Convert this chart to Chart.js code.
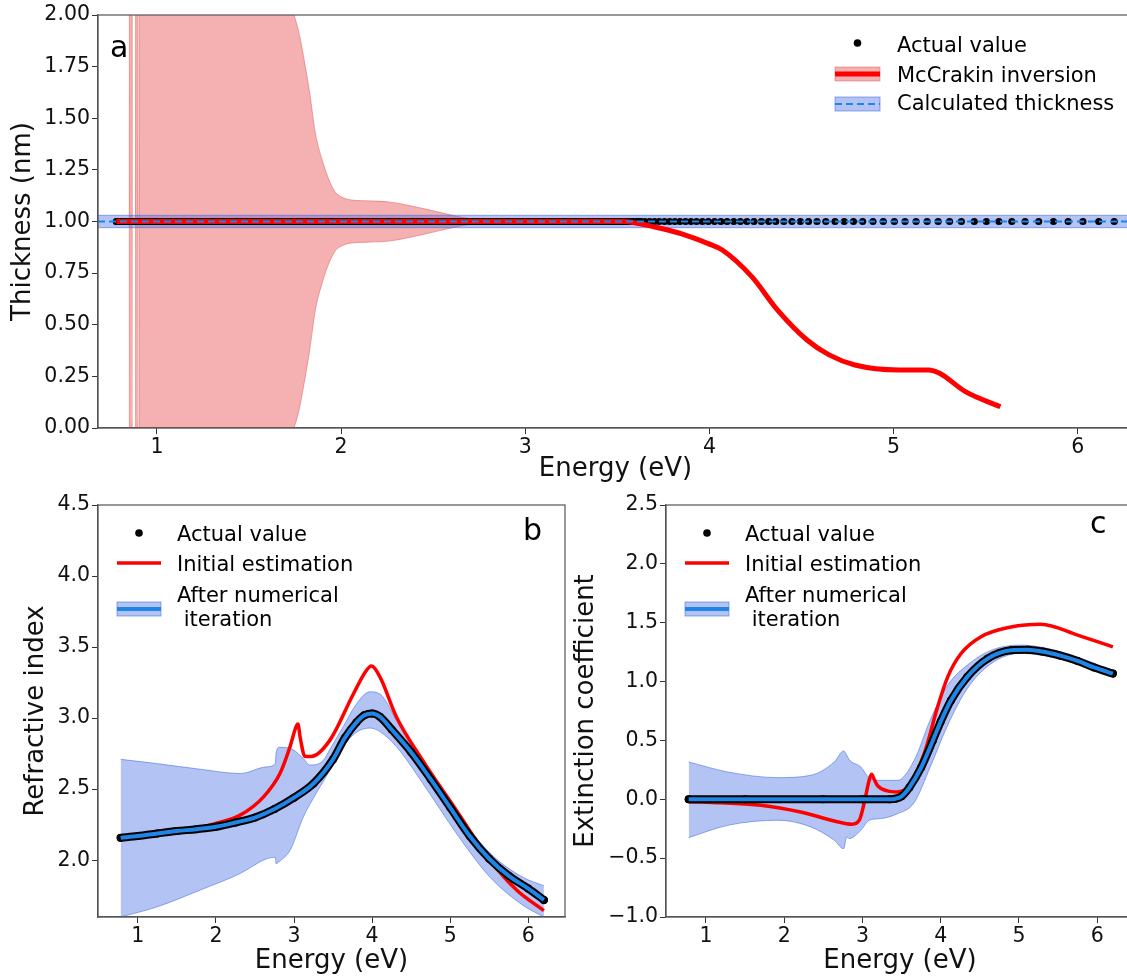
<!DOCTYPE html>
<html>
<head>
<meta charset="utf-8">
<script src="https://cdn.jsdelivr.net/npm/chart.js@4.4.1/dist/chart.umd.min.js"></script>
<style>
  html, body { margin: 0; padding: 0; background: #fff; overflow: hidden; width: 1127px; height: 977px; }
  canvas { position: absolute; }
  #chartA { left: 0; top: 0; }
  #chartB { left: 0; top: 490px; }
  #chartC { left: 560px; top: 490px; }
</style>
</head>
<body>
<canvas id="chartA" width="1140" height="490"></canvas>
<canvas id="chartB" width="580" height="487"></canvas>
<canvas id="chartC" width="580" height="487"></canvas>
<script>
// ---------- panel a : thickness ----------
var dotEnergy = [
  0.78,0.83,0.88,0.93,0.98,1.03,1.08,1.13,1.18,1.23,1.28,1.33,1.38,1.43,1.48,1.53,1.58,1.63,1.68,1.73,
  1.78,1.83,1.88,1.93,1.98,2.03,2.08,2.13,2.18,2.23,2.28,2.33,2.38,2.43,2.48,2.53,2.58,2.63,2.68,2.73,
  2.78,2.83,2.88,2.93,2.98,3.03,3.08,3.13,3.18,3.23,3.28,3.33,3.38,3.43,3.48,3.53,3.58,
  3.626,3.65,3.676,3.702,3.728,3.756,3.784,3.812,3.84,3.87,3.9,3.93,3.962,3.994,4.028,4.062,4.096,4.132,
  4.168,4.204,4.242,4.282,4.322,4.36,4.404,4.448,4.494,4.538,4.584,4.632,4.682,4.732,4.782,4.832,4.888,
  4.944,5.004,5.062,5.122,5.182,5.242,5.304,5.368,5.438,5.504,5.572,5.642,5.714,5.788,5.868,5.948,6.028,6.114,6.198
];
var actualThickness = 1.0;
var calcThickness = 1.0;
var calcBand = [0.97, 1.03];

var mcEnergy    = [0.78, 1.5, 2.5, 3.13, 3.53, 3.6, 3.73, 3.85, 3.99, 4.07, 4.23, 4.37, 4.53, 4.65, 4.79, 5.03, 5.19, 5.25, 5.39, 5.58];
var mcThickness = [1.0, 1.0, 1.0, 1.0, 1.0, 0.993, 0.968, 0.94, 0.894, 0.862, 0.733, 0.571, 0.426, 0.354, 0.305, 0.281, 0.281, 0.265, 0.176, 0.103];

var mcBandEnergy = [0.78, 0.85, 0.852, 0.864, 0.866, 0.884, 0.886, 0.894, 0.896, 0.903, 0.905, 1.3, 1.6, 1.70, 1.745, 1.77, 1.79, 1.83, 1.86, 1.90, 1.935, 1.97, 2.0, 2.05, 2.15, 2.26, 2.44, 2.62, 2.71, 2.85, 3.2, 3.5];
var mcBandUpper  = [1.0, 1.0, 60, 60, 1.0, 1.0, 60, 60, 1.0, 1.0, 60, 40, 2.6, 2.15, 2.0, 1.92, 1.83, 1.62, 1.43, 1.29, 1.2, 1.14, 1.12, 1.105, 1.10, 1.095, 1.064, 1.027, 1.012, 1.004, 1.001, 1.0];
var mcBandLower  = [1.0, 1.0, -60, -60, 1.0, 1.0, -60, -60, 1.0, 1.0, -60, -40, -0.6, -0.15, 0.0, 0.08, 0.17, 0.38, 0.57, 0.71, 0.80, 0.86, 0.88, 0.895, 0.90, 0.905, 0.936, 0.973, 0.988, 0.996, 0.999, 1.0];

var xLimA = [0.68, 6.3];
var xTicks = [1, 2, 3, 4, 5, 6];
var yTicksA = [0, 0.25, 0.5, 0.75, 1.0, 1.25, 1.5, 1.75, 2.0];

// ---------- panel b : refractive index ----------
var nEnergy = [0.78, 1.0, 1.25, 1.5, 1.75, 2.0, 2.25, 2.5, 2.75, 3.0, 3.25, 3.5, 3.65, 3.8, 3.9, 4.0, 4.1, 4.25, 4.5, 4.75, 5.0, 5.25, 5.5, 5.75, 6.0, 6.2];
var nActual = [2.157, 2.17, 2.188, 2.205, 2.218, 2.235, 2.265, 2.30, 2.36, 2.44, 2.54, 2.71, 2.86, 2.97, 3.02, 3.033, 3.01, 2.92, 2.76, 2.57, 2.37, 2.17, 2.01, 1.89, 1.80, 1.72];
var nIter = nActual; // fitted curve lies on the actual values

var nInitEnergy = [0.78, 1.25, 1.75, 2.0, 2.31, 2.61, 2.82, 2.95, 3.02, 3.05, 3.08, 3.14, 3.22, 3.46, 3.76, 3.92, 3.99, 4.10, 4.31, 4.65, 5.08, 5.51, 5.85, 6.2];
var nInit       = [2.16, 2.19, 2.225, 2.258, 2.317, 2.446, 2.61, 2.80, 2.93, 2.958, 2.86, 2.73, 2.73, 2.845, 3.17, 3.33, 3.366, 3.29, 3.01, 2.70, 2.35, 2.0, 1.79, 1.645];

var nBandEnergy = [0.78, 1.24, 1.8, 2.31, 2.65, 2.76, 2.77, 2.81, 2.95, 3.12, 3.2, 3.37, 3.46, 3.63, 3.8, 3.97, 4.1, 4.31, 4.65, 5.08, 5.51, 5.93, 6.2];
var nBandUpper  = [2.71, 2.68, 2.64, 2.61, 2.657, 2.68, 2.75, 2.794, 2.787, 2.716, 2.67, 2.70, 2.78, 2.94, 3.10, 3.185, 3.17, 2.986, 2.68, 2.34, 2.05, 1.88, 1.82];
var nBandLower  = [1.60, 1.67, 1.79, 1.906, 2.01, 2.02, 1.975, 1.99, 2.07, 2.305, 2.39, 2.55, 2.634, 2.80, 2.90, 2.93, 2.905, 2.80, 2.54, 2.188, 1.88, 1.683, 1.60];

var xLimBC = [0.49, 6.47];
var yTicksB = [2.0, 2.5, 3.0, 3.5, 4.0, 4.5];

// ---------- panel c : extinction coefficient ----------
var kEnergy = [0.78, 1.5, 2.5, 3.0, 3.35, 3.42, 3.5, 3.6, 3.75, 3.9, 4.0, 4.13, 4.34, 4.6, 4.9, 5.11, 5.3, 5.53, 5.75, 5.96, 6.2];
var kActual = [0, 0, 0, 0, 0, 0.005, 0.025, 0.1, 0.27, 0.5, 0.66, 0.84, 1.04, 1.195, 1.266, 1.27, 1.255, 1.22, 1.175, 1.12, 1.068];
var kIter = kActual;

var kInitEnergy = [0.78, 1.2, 1.7, 2.21, 2.64, 2.87, 2.96, 3.03, 3.085, 3.116, 3.15, 3.19, 3.32, 3.45, 3.58, 3.79, 3.96, 4.09, 4.26, 4.51, 4.9, 5.28, 5.75, 6.2];
var kInit       = [-0.02, -0.03, -0.05, -0.108, -0.184, -0.212, -0.178, -0.008, 0.16, 0.212, 0.17, 0.119, 0.071, 0.062, 0.105, 0.388, 0.784, 1.04, 1.238, 1.379, 1.464, 1.487, 1.395, 1.294];

var kBandEnergy = [0.78, 1.28, 1.92, 2.34, 2.64, 2.76, 2.80, 2.83, 2.98, 3.085, 3.235, 3.45, 3.66, 3.87, 4.09, 4.34, 4.64, 5.02, 5.53, 6.2];
var kBandUpper  = [0.317, 0.232, 0.184, 0.204, 0.317, 0.41, 0.374, 0.337, 0.274, 0.184, 0.161, 0.161, 0.33, 0.68, 0.97, 1.14, 1.265, 1.31, 1.255, 1.095];
var kBandLower  = [-0.326, -0.221, -0.178, -0.235, -0.348, -0.42, -0.32, -0.334, -0.263, -0.178, -0.164, -0.122, -0.03, 0.28, 0.63, 0.94, 1.15, 1.24, 1.19, 1.04];

var yTicksC = [-1.0, -0.5, 0.0, 0.5, 1.0, 1.5, 2.0, 2.5];

// ---------- styles ----------
var RED = '#ff0000';
var BLUE = '#1f86e8';
var BAND_BLUE = 'rgba(65,105,225,0.4)';
var BAND_BLUE_EDGE = 'rgba(65,105,225,0.55)';
var BAND_RED = 'rgba(230,60,60,0.4)';
var BAND_RED_EDGE = 'rgba(210,60,60,0.4)';
var FONT = 'DejaVu Sans';

Chart.defaults.font.family = FONT;
Chart.defaults.color = '#111';

function xy(xs, ys) {
  return xs.map(function(x, i) { return {x: x, y: ys[i]}; });
}
function flat(xs, v) {
  return xs.map(function(x) { return {x: x, y: v}; });
}
function fmt(v, d) {
  return v.toFixed(d).replace('-', '\u2212');
}

// frame, panel letter and matplotlib-like legend
var decor = {
  id: 'decor',
  afterDraw: function(chart, args, o) {
    var ctx = chart.ctx, a = chart.chartArea;
    ctx.save();
    ctx.strokeStyle = '#555';
    ctx.lineWidth = 1.2;
    ctx.strokeRect(a.left, a.top, a.right - a.left, a.bottom - a.top);

    ctx.fillStyle = '#000';
    ctx.textBaseline = 'alphabetic';
    ctx.font = '30px "' + FONT + '"';
    ctx.fillText(o.letter, a.left + o.letterX, a.top + o.letterY);

    ctx.font = '21px "' + FONT + '"';
    o.items.forEach(function(it) {
      var y = a.top + it.y, x0 = a.left + o.mx0, x1 = a.left + o.mx1;
      if (it.patch) {
        ctx.fillStyle = it.patch;
        ctx.fillRect(x0, y - 7, x1 - x0, 14);
        ctx.strokeStyle = it.patchEdge;
        ctx.lineWidth = 1;
        ctx.strokeRect(x0, y - 7, x1 - x0, 14);
      }
      if (it.line) {
        ctx.strokeStyle = it.line;
        ctx.lineWidth = it.lw;
        ctx.setLineDash(it.dash || []);
        ctx.beginPath();
        ctx.moveTo(x0, y);
        ctx.lineTo(x1, y);
        ctx.stroke();
        ctx.setLineDash([]);
      }
      if (it.dot) {
        ctx.fillStyle = '#000';
        ctx.beginPath();
        ctx.arc((x0 + x1) / 2, y, 3.8, 0, Math.PI * 2);
        ctx.fill();
      }
      ctx.fillStyle = '#000';
      it.text.forEach(function(t, i) {
        ctx.fillText(t, a.left + o.tx, a.top + it.base[i]);
      });
    });
    ctx.restore();
  }
};

function axes(o) {
  return {
    x: {
      type: 'linear', min: o.xlim[0], max: o.xlim[1],
      afterBuildTicks: function(s) { s.ticks = xTicks.map(function(v) { return {value: v}; }); },
      afterFit: function(s) { s.height = o.xh; },
      grid: { drawOnChartArea: false, tickLength: 6, color: '#333' },
      border: { color: '#555', width: 1.2 },
      ticks: { font: { size: 20.5 }, color: '#111', padding: 1, maxRotation: 0, autoSkip: false,
               callback: function(v) { return String(v); } },
      title: { display: true, text: 'Energy (eV)', font: { size: 26 }, color: '#111',
               padding: { top: 0, bottom: o.xtp } }
    },
    y: {
      type: 'linear', min: o.ylim[0], max: o.ylim[1],
      afterBuildTicks: function(s) { s.ticks = o.yticks.map(function(v) { return {value: v}; }); },
      afterFit: function(s) { s.width = o.yw; },
      grid: { drawOnChartArea: false, tickLength: 6, color: '#333' },
      border: { color: '#555', width: 1.2 },
      ticks: { font: { size: 20.5 }, color: '#111', padding: 2, autoSkip: false,
               callback: function(v) { return fmt(v, o.dec); } },
      title: { display: true, text: o.ytitle, font: { size: 26 }, color: '#111',
               padding: { top: o.ytp, bottom: 0 } }
    }
  };
}

function baseOptions(o) {
  return {
    responsive: false,
    animation: false,
    devicePixelRatio: 1,
    layout: { padding: o.pad },
    scales: axes(o),
    elements: { point: { radius: 0 }, line: { cubicInterpolationMode: 'monotone' } },
    plugins: { legend: { display: false }, tooltip: { enabled: false }, decor: o.decor }
  };
}

// ---------- chart a ----------
new Chart(document.getElementById('chartA'), {
  type: 'line',
  data: {
    datasets: [
      { data: flat(xLimA, calcThickness), borderColor: BLUE, borderWidth: 2, borderDash: [7, 4], order: 0 },
      { data: xy(mcEnergy, mcThickness), borderColor: RED, borderWidth: 5, order: 1 },
      { data: flat(dotEnergy, actualThickness), showLine: true, borderWidth: 7, borderCapStyle: 'round',
        borderColor: '#000', pointRadius: 3.6, pointBackgroundColor: '#000', pointBorderWidth: 0,
        segment: { borderColor: function(c) { return c.p0.parsed.x < 3.6 ? '#000' : 'rgba(0,0,0,0)'; } },
        order: 2 },
      { data: flat(xLimA, calcBand[1]), borderColor: BAND_BLUE_EDGE, borderWidth: 1, fill: '+1', backgroundColor: BAND_BLUE, order: 3 },
      { data: flat(xLimA, calcBand[0]), borderColor: BAND_BLUE_EDGE, borderWidth: 1, order: 3 },
      { data: xy(mcBandEnergy, mcBandUpper), borderColor: BAND_RED_EDGE, borderWidth: 1, fill: '+1', backgroundColor: BAND_RED, order: 4 },
      { data: xy(mcBandEnergy, mcBandLower), borderColor: BAND_RED_EDGE, borderWidth: 1, order: 4 }
    ]
  },
  options: baseOptions({
    xlim: xLimA, ylim: [0, 2], yticks: yTicksA, dec: 2, ytitle: 'Thickness (nm)',
    pad: { left: 0, top: 15, right: 7, bottom: 0 }, xh: 62, yw: 98, xtp: 5, ytp: 8,
    decor: {
      letter: 'a', letterX: 12, letterY: 42, mx0: 737, mx1: 782, tx: 799,
      items: [
        { dot: true, y: 28, base: [37], text: ['Actual value'] },
        { patch: BAND_RED, patchEdge: BAND_RED_EDGE, line: RED, lw: 5, y: 59, base: [67], text: ['McCrakin inversion'] },
        { patch: BAND_BLUE, patchEdge: BAND_BLUE_EDGE, line: BLUE, lw: 2, dash: [7, 4], y: 89, base: [95], text: ['Calculated thickness'] }
      ]
    }
  }),
  plugins: [decor]
});

function opticalChart(id, o) {
  new Chart(document.getElementById(id), {
    type: 'line',
    data: {
      datasets: [
        { data: xy(o.e, o.iter), borderColor: BLUE, borderWidth: 4, order: 0 },
        { data: xy(o.e, o.actual), borderColor: '#000', borderWidth: 8, borderCapStyle: 'round',
          pointRadius: 4, pointBackgroundColor: '#000', pointBorderWidth: 0, order: 1 },
        { data: xy(o.ie, o.init), borderColor: RED, borderWidth: 3.5, order: 2 },
        { data: xy(o.be, o.bu), borderColor: BAND_BLUE_EDGE, borderWidth: 1, fill: '+1', backgroundColor: BAND_BLUE, order: 3 },
        { data: xy(o.be, o.bl), borderColor: BAND_BLUE_EDGE, borderWidth: 1, order: 3 }
      ]
    },
    options: baseOptions({
      xlim: xLimBC, ylim: o.ylim, yticks: o.yticks, dec: 1, ytitle: o.ytitle,
      pad: o.pad, xh: 60, yw: o.yw, xtp: 0, ytp: o.ytp,
      decor: {
        letter: o.letter, letterX: o.letterX, letterY: o.letterY, mx0: 19, mx1: 63, tx: 79,
        items: [
          { dot: true, y: 28, base: [36], text: ['Actual value'] },
          { line: RED, lw: 3.5, y: 58, base: [66], text: ['Initial estimation'] },
          { patch: BAND_BLUE, patchEdge: BAND_BLUE_EDGE, line: BLUE, lw: 4, y: 104, base: [97, 121], text: ['After numerical', ' iteration'] }
        ]
      }
    }),
    plugins: [decor]
  });
}

opticalChart('chartB', {
  e: nEnergy, actual: nActual, iter: nIter, ie: nInitEnergy, init: nInit,
  be: nBandEnergy, bu: nBandUpper, bl: nBandLower,
  ylim: [1.6, 4.5], yticks: yTicksB, ytitle: 'Refractive index',
  pad: { left: 0, top: 15, right: 15, bottom: 0 }, yw: 98, ytp: 21,
  letter: 'b', letterX: 425, letterY: 35
});

opticalChart('chartC', {
  e: kEnergy, actual: kActual, iter: kIter, ie: kInitEnergy, init: kInit,
  be: kBandEnergy, bu: kBandUpper, bl: kBandLower,
  ylim: [-1.0, 2.5], yticks: yTicksC, ytitle: 'Extinction coefficient',
  pad: { left: 0, top: 15, right: 6, bottom: 0 }, yw: 106, ytp: 11,
  letter: 'c', letterX: 424, letterY: 28
});
</script>
</body>
</html>
